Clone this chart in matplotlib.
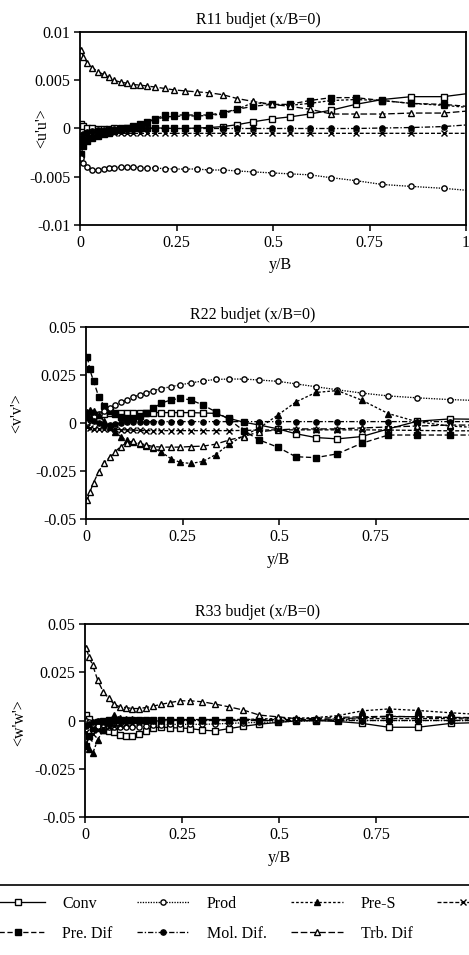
import numpy as np
import matplotlib.pyplot as plt
from matplotlib.ticker import FuncFormatter
from matplotlib.lines import Line2D

plt.rcParams['font.family'] = ['Liberation Serif', 'DejaVu Serif']
plt.rcParams['axes.unicode_minus'] = False
FS = 11.5

# y/B stations (last one lies just past the plotted range)
y_b = [0.003, 0.009, 0.019, 0.032, 0.046, 0.061, 0.075, 0.089, 0.105, 0.121,
       0.138, 0.156, 0.174, 0.194, 0.219, 0.244, 0.271, 0.302, 0.335, 0.370,
       0.408, 0.449, 0.497, 0.543, 0.595, 0.651, 0.714, 0.783, 0.858, 0.942, 1.03]

# ---- R11 budget, values x 1e-3
r11_conv = [0.5, 0.3, 0.1, 0.0, -0.1, -0.1, -0.1, 0.0, 0.0, 0.0, 0.05, 0.05, 0.05, 0.05, 0.05, 0.0,
            0.0, 0.05, 0.1, 0.2, 0.4, 0.7, 1.0, 1.2, 1.5, 1.9, 2.5, 3.0, 3.3, 3.3, 3.75]
r11_prod = [-3.1, -3.6, -4.0, -4.3, -4.3, -4.2, -4.1, -4.05, -4.0, -4.0, -4.0, -4.05, -4.1, -4.1, -4.15,
            -4.2, -4.2, -4.2, -4.3, -4.3, -4.4, -4.5, -4.6, -4.7, -4.8, -5.1, -5.4, -5.8, -6.0, -6.2, -6.5]
r11_pres = [-1.5, -1.2, -0.9, -0.7, -0.5, -0.4, -0.3, -0.2, -0.1, 0.1, 0.3, 0.5, 0.7, 0.9, 1.2, 1.25,
            1.3, 1.3, 1.35, 1.5, 2.0, 2.7, 2.5, 2.4, 2.6, 2.9, 3.0, 2.9, 2.6, 2.4, 2.1]
r11_dis = [-0.9, -0.8, -0.7, -0.6, -0.55, -0.5, -0.5, -0.5, -0.5, -0.5, -0.5, -0.5, -0.5, -0.5, -0.5, -0.5,
           -0.5, -0.5, -0.5, -0.5, -0.5, -0.5, -0.5, -0.5, -0.5, -0.5, -0.5, -0.5, -0.5, -0.5, -0.5]
r11_predif = [-2.6, -1.8, -1.3, -1.0, -0.8, -0.6, -0.45, -0.3, -0.1, 0.1, 0.3, 0.5, 0.7, 1.0, 1.35, 1.4,
              1.4, 1.4, 1.4, 1.65, 2.0, 2.3, 2.5, 2.5, 2.9, 3.2, 3.2, 2.9, 2.6, 2.5, 2.2]
r11_mol = [-1.2, -0.6, -0.4, -0.3, -0.2, -0.15, -0.1, -0.05, 0.0, 0.0, 0.0, 0.0, 0.0, 0.0, 0.0, 0.0,
           0.0, 0.0, 0.0, 0.0, 0.0, 0.0, 0.0, 0.0, 0.0, 0.0, 0.0, 0.05, 0.1, 0.2, 0.45]
r11_trb = [8.1, 7.4, 6.8, 6.3, 5.9, 5.6, 5.3, 5.0, 4.8, 4.7, 4.55, 4.5, 4.4, 4.3, 4.15, 4.0,
           3.9, 3.8, 3.7, 3.5, 3.1, 2.8, 2.5, 2.3, 2.0, 1.5, 1.5, 1.5, 1.6, 1.6, 1.9]

# ---- R22 budget, values x 1e-3
r22_conv = [1.5, 3.0, 4.0, 4.5, 5.0, 5.2, 5.4, 5.5, 5.5, 5.5, 5.5, 5.5, 5.5, 5.5, 5.5, 5.5,
            5.5, 5.3, 5.1, 2.5, 0.5, -1.0, -3.0, -5.5, -7.5, -8.2, -7.0, -3.0, 1.0, 2.2, 2.0]
r22_prod = [0.5, 1.5, 3.0, 5.0, 6.5, 8.0, 9.5, 10.8, 12.2, 13.5, 14.8, 15.9, 17.0, 18.0, 19.0, 20.0,
            21.0, 22.0, 22.8, 23.0, 23.0, 22.5, 21.8, 20.5, 19.0, 17.4, 15.7, 14.2, 13.2, 12.3, 11.7]
r22_pres = [6.0, 7.0, 6.5, 4.0, 1.0, -2.0, -4.5, -7.0, -9.0, -10.0, -11.0, -12.0, -13.0, -15.0, -18.5, -20.5,
            -21.0, -20.0, -16.5, -11.0, -6.5, -2.5, 4.3, 11.0, 16.0, 17.0, 12.0, 5.0, 0.7, -1.5, -2.5]
r22_dis = [-2.0, -2.5, -3.0, -3.0, -3.0, -3.0, -3.2, -3.4, -3.5, -3.6, -3.8, -3.9, -3.9, -3.9, -3.9, -3.9,
           -3.9, -3.9, -3.9, -3.9, -3.8, -3.6, -3.5, -3.5, -3.5, -3.5, -3.5, -3.6, -3.8, -4.0, -4.0]
r22_predif = [34.4, 28.0, 21.8, 13.9, 9.0, 6.5, 5.0, 3.0, 2.5, 2.5, 3.5, 5.5, 7.8, 10.4, 12.1, 13.0,
              12.1, 9.5, 6.0, 2.0, -4.0, -8.8, -12.6, -17.5, -18.0, -16.0, -10.5, -6.2, -6.2, -6.2, -6.2]
r22_mol = [3.0, 2.0, 1.0, 0.0, -1.0, -1.0, -0.5, 0.0, 0.5, 0.8, 0.8, 0.8, 0.8, 0.8, 0.8, 0.8,
           0.8, 0.8, 0.8, 0.8, 0.8, 0.8, 0.8, 0.8, 0.8, 0.8, 0.8, 0.8, 0.8, 0.8, 0.8]
r22_trb = [-40.0, -36.0, -31.0, -25.3, -20.6, -17.7, -14.9, -12.2, -10.2, -9.3, -10.5, -11.4, -12.2, -12.5, -12.5, -12.5,
           -12.2, -12.0, -11.0, -8.8, -7.0, -4.5, -3.5, -3.0, -3.0, -3.0, -2.5, -2.0, -1.5, -1.0, -1.0]

# ---- R33 budget, values x 1e-3
r33_conv = [3.0, 1.0, -2.0, -4.0, -5.0, -5.5, -6.0, -7.6, -8.0, -8.0, -7.1, -5.4, -4.0, -3.3, -3.8, -3.8,
            -4.2, -5.0, -5.4, -4.2, -3.0, -1.9, -1.0, -0.2, 0.0, -0.5, -1.5, -3.5, -3.5, -1.5, -1.0]
r33_prod = [0.0, -1.0, -2.0, -3.0, -3.5, -3.5, -3.5, -3.5, -3.5, -3.5, -3.5, -3.0, -2.5, -2.2, -2.0, -2.0,
            -2.0, -2.0, -1.8, -1.5, -1.2, -1.0, -0.7, -0.4, 0.0, 0.0, 0.0, 0.0, 0.0, 0.0, 0.0]
r33_pres = [-12.0, -15.0, -17.0, -10.0, -5.0, -1.0, 3.0, 1.5, 1.0, 0.8, 0.5, 0.5, 0.5, 0.5, 0.5, 0.5,
            0.5, 0.5, 0.5, 0.5, 0.5, 0.8, 1.0, 1.2, 1.5, 2.5, 5.0, 6.0, 5.2, 4.0, 3.0]
r33_dis = [-6.0, -9.0, -7.0, -5.0, -4.0, -3.5, -3.0, -2.5, -2.0, -1.5, -1.0, -0.5, -0.3, -0.2, 0.0, 0.0,
           0.0, 0.0, 0.0, 0.0, 0.0, 0.0, 0.0, 0.0, 0.0, 0.5, 1.0, 1.0, 1.0, 1.0, 0.5]
r33_predif = [-13.0, -8.0, -4.0, -1.0, 0.0, 0.5, 0.5, 0.5, 0.5, 0.5, 0.5, 0.5, 0.5, 0.5, 0.5, 0.5,
              0.5, 0.5, 0.5, 0.5, 0.5, 0.5, 0.5, 0.5, 0.5, 0.8, 1.5, 2.0, 2.0, 1.5, 1.0]
r33_mol = [-3.0, -2.0, -1.0, -0.5, -0.2, 0.0, 0.0, 0.0, 0.0, 0.0, 0.0, 0.0, 0.0, 0.0, 0.0, 0.0,
           0.0, 0.0, 0.0, 0.0, 0.0, 0.0, 0.0, 0.0, 0.0, 0.0, 0.0, 0.0, 0.0, 0.0, 0.0]
r33_trb = [37.4, 33.0, 28.7, 20.9, 14.9, 11.4, 8.3, 7.1, 6.7, 6.2, 6.2, 6.7, 7.4, 8.3, 9.3, 10.2,
           10.2, 9.7, 8.5, 7.1, 5.4, 2.8, 1.9, 1.0, 1.0, 1.6, 1.9, 2.2, 1.9, 1.6, 1.5]

# legend order (matplotlib fills columns first)
labels = ['Conv', 'Pre. Dif', 'Prod', 'Mol. Dif.', 'Pre-S', 'Trb. Dif', 'Dis.']
styles = {
    'Conv':      dict(ls='-', marker='s', mfc='white', ms=4),
    'Pre. Dif':  dict(ls=(0, (4, 2)), marker='s', mfc='black', ms=4),
    'Prod':      dict(ls=(0, (1, 1)), marker='o', mfc='white', ms=3.8),
    'Mol. Dif.': dict(ls=(0, (4, 1.5, 1, 1.5)), marker='o', mfc='black', ms=3.8),
    'Pre-S':     dict(ls=(0, (2, 1.5)), marker='^', mfc='black', ms=4.2),
    'Trb. Dif':  dict(ls=(0, (5, 2)), marker='^', mfc='white', ms=4.2),
    'Dis.':      dict(ls=(0, (3, 1.5)), marker='x', mfc='black', ms=4),
}

panels = [
    dict(data=dict(zip(labels, [r11_conv, r11_predif, r11_prod, r11_mol, r11_pres, r11_trb, r11_dis])),
         pos=[80, 32, 466, 225], lim=0.01, ticks=[-0.01, -0.005, 0, 0.005, 0.01],
         xticks=[0, 0.25, 0.5, 0.75, 1],
         title='R11 budjet (x/B=0)', ylabel="<u'u'>",
         title_xy=(0.461, 1.062), ylab_xy=(-0.078, 0.5), xlab_xy=(0.52, -0.166)),
    dict(data=dict(zip(labels, [r22_conv, r22_predif, r22_prod, r22_mol, r22_pres, r22_trb, r22_dis])),
         pos=[86.3, 327.3, 472, 519], lim=0.05, ticks=[-0.05, -0.025, 0, 0.025, 0.05],
         xticks=[0, 0.25, 0.5, 0.75],
         title='R22 budjet (x/B=0)', ylabel="<v'v'>",
         title_xy=(0.431, 1.064), ylab_xy=(-0.159, 0.553), xlab_xy=(0.497, -0.17)),
    dict(data=dict(zip(labels, [r33_conv, r33_predif, r33_prod, r33_mol, r33_pres, r33_trb, r33_dis])),
         pos=[85.3, 624, 473, 817], lim=0.05, ticks=[-0.05, -0.025, 0, 0.025, 0.05],
         xticks=[0, 0.25, 0.5, 0.75],
         title='R33 budjet (x/B=0)', ylabel="<w'w'>",
         title_xy=(0.445, 1.062), ylab_xy=(-0.150, 0.487), xlab_xy=(0.50, -0.171)),
]

W, H = 469, 955
fig = plt.figure(figsize=(W / 100, H / 100), dpi=100)
fmt = FuncFormatter(lambda v, p: '{:g}'.format(v))

handles = []
for p in panels:
    l, t, r, b = p['pos']
    ax = fig.add_axes([l / W, 1 - b / H, (r - l) / W, (b - t) / H])
    yb = np.array(y_b)
    for name in labels:
        st = styles[name]
        line, = ax.plot(yb, np.array(p['data'][name]) * 1e-3, color='black', lw=0.95,
                        ls=st['ls'], marker=st['marker'], mfc=st['mfc'], mec='black',
                        ms=st['ms'], mew=1.0, label=name)
        if len(handles) < len(labels):
            handles.append(line)
    ax.set_xlim(0, 1)
    ax.set_ylim(-p['lim'], p['lim'])
    ax.set_xticks(p['xticks'])
    ax.set_yticks(p['ticks'])
    ax.xaxis.set_major_formatter(fmt)
    ax.yaxis.set_major_formatter(fmt)
    ax.tick_params(direction='out', length=4, width=1.1, labelsize=FS, pad=3)
    for s in ax.spines.values():
        s.set_linewidth(1.3)
    ax.text(*p['title_xy'], p['title'], transform=ax.transAxes, ha='center', va='center', fontsize=FS)
    ax.set_ylabel(p['ylabel'], fontsize=FS)
    ax.yaxis.set_label_coords(*p['ylab_xy'])
    ax.set_xlabel('y/B', fontsize=FS)
    ax.xaxis.set_label_coords(*p['xlab_xy'])

fig.add_artist(Line2D([0, 1], [1 - 885 / H] * 2, transform=fig.transFigure, color='black', lw=1.2))
fig.legend(handles, labels, ncol=4, loc='upper left', bbox_to_anchor=(-8 / W, 1 - 896 / H),
           frameon=False, fontsize=FS, borderpad=0, borderaxespad=0, handlelength=3.3,
           handletextpad=1.1, columnspacing=1.5, labelspacing=0.85)

fig.savefig('out.png', dpi=100)
